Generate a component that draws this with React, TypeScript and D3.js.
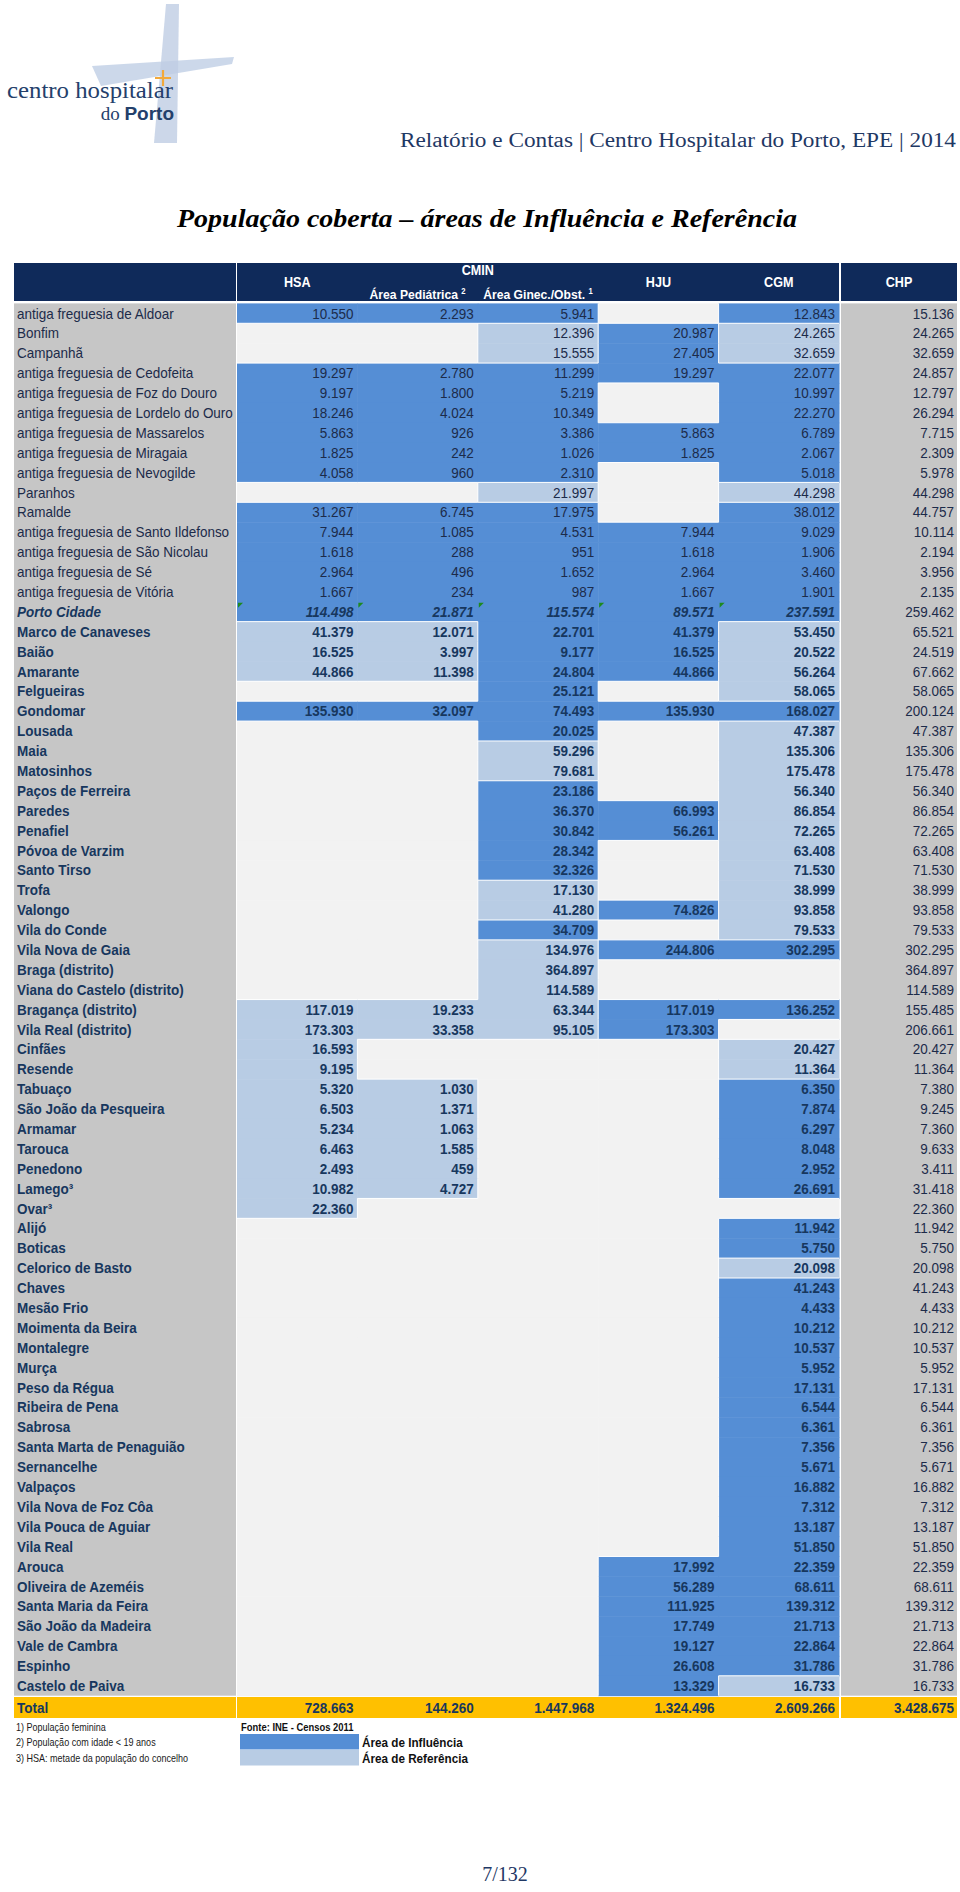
import React from 'react';
import * as d3 from 'd3';

const _ = null;

const categories: string[] = [
  'antiga freguesia de Aldoar', 'Bonfim', 'Campanhã', 'antiga freguesia de Cedofeita',
  'antiga freguesia de Foz do Douro', 'antiga freguesia de Lordelo do Ouro', 'antiga freguesia de Massarelos',
  'antiga freguesia de Miragaia', 'antiga freguesia de Nevogilde', 'Paranhos', 'Ramalde',
  'antiga freguesia de Santo Ildefonso', 'antiga freguesia de São Nicolau', 'antiga freguesia de Sé',
  'antiga freguesia de Vitória', 'Porto Cidade', 'Marco de Canaveses', 'Baião', 'Amarante', 'Felgueiras',
  'Gondomar', 'Lousada', 'Maia', 'Matosinhos', 'Paços de Ferreira', 'Paredes', 'Penafiel',
  'Póvoa de Varzim', 'Santo Tirso', 'Trofa', 'Valongo', 'Vila do Conde', 'Vila Nova de Gaia',
  'Braga (distrito)', 'Viana do Castelo (distrito)', 'Bragança (distrito)', 'Vila Real (distrito)',
  'Cinfães', 'Resende', 'Tabuaço', 'São João da Pesqueira', 'Armamar', 'Tarouca', 'Penedono',
  'Lamego³', 'Ovar³', 'Alijó', 'Boticas', 'Celorico de Basto', 'Chaves', 'Mesão Frio',
  'Moimenta da Beira', 'Montalegre', 'Murça', 'Peso da Régua', 'Ribeira de Pena', 'Sabrosa',
  'Santa Marta de Penaguião', 'Sernancelhe', 'Valpaços', 'Vila Nova de Foz Côa', 'Vila Pouca de Aguiar',
  'Vila Real', 'Arouca', 'Oliveira de Azeméis', 'Santa Maria da Feira', 'São João da Madeira',
  'Vale de Cambra', 'Espinho', 'Castelo de Paiva',
];

const hsaValues: (number | null)[] = [
  10550, _, _, 19297, 9197, 18246, 5863, 1825, 4058, _,
  31267, 7944, 1618, 2964, 1667, 114498, 41379, 16525, 44866, _,
  135930, _, _, _, _, _, _, _, _, _,
  _, _, _, _, _, 117019, 173303, 16593, 9195, 5320,
  6503, 5234, 6463, 2493, 10982, 22360, _, _, _, _,
  _, _, _, _, _, _, _, _, _, _,
  _, _, _, _, _, _, _, _, _, _,
];
const pedValues: (number | null)[] = [
  2293, _, _, 2780, 1800, 4024, 926, 242, 960, _,
  6745, 1085, 288, 496, 234, 21871, 12071, 3997, 11398, _,
  32097, _, _, _, _, _, _, _, _, _,
  _, _, _, _, _, 19233, 33358, _, _, 1030,
  1371, 1063, 1585, 459, 4727, _, _, _, _, _,
  _, _, _, _, _, _, _, _, _, _,
  _, _, _, _, _, _, _, _, _, _,
];
const ginValues: (number | null)[] = [
  5941, 12396, 15555, 11299, 5219, 10349, 3386, 1026, 2310, 21997,
  17975, 4531, 951, 1652, 987, 115574, 22701, 9177, 24804, 25121,
  74493, 20025, 59296, 79681, 23186, 36370, 30842, 28342, 32326, 17130,
  41280, 34709, 134976, 364897, 114589, 63344, 95105, _, _, _,
  _, _, _, _, _, _, _, _, _, _,
  _, _, _, _, _, _, _, _, _, _,
  _, _, _, _, _, _, _, _, _, _,
];
const hjuValues: (number | null)[] = [
  _, 20987, 27405, 19297, _, _, 5863, 1825, _, _,
  _, 7944, 1618, 2964, 1667, 89571, 41379, 16525, 44866, _,
  135930, _, _, _, _, 66993, 56261, _, _, _,
  74826, _, 244806, _, _, 117019, 173303, _, _, _,
  _, _, _, _, _, _, _, _, _, _,
  _, _, _, _, _, _, _, _, _, _,
  _, _, _, 17992, 56289, 111925, 17749, 19127, 26608, 13329,
];
const cgmValues: (number | null)[] = [
  12843, 24265, 32659, 22077, 10997, 22270, 6789, 2067, 5018, 44298,
  38012, 9029, 1906, 3460, 1901, 237591, 53450, 20522, 56264, 58065,
  168027, 47387, 135306, 175478, 56340, 86854, 72265, 63408, 71530, 38999,
  93858, 79533, 302295, _, _, 136252, _, 20427, 11364, 6350,
  7874, 6297, 8048, 2952, 26691, _, 11942, 5750, 20098, 41243,
  4433, 10212, 10537, 5952, 17131, 6544, 6361, 7356, 5671, 16882,
  7312, 13187, 51850, 22359, 68611, 139312, 21713, 22864, 31786, 16733,
];
const chpValues: number[] = [
  15136, 24265, 32659, 24857, 12797, 26294, 7715, 2309, 5978, 44298,
  44757, 10114, 2194, 3956, 2135, 259462, 65521, 24519, 67662, 58065,
  200124, 47387, 135306, 175478, 56340, 86854, 72265, 63408, 71530, 38999,
  93858, 79533, 302295, 364897, 114589, 155485, 206661, 20427, 11364, 7380,
  9245, 7360, 9633, 3411, 31418, 22360, 11942, 5750, 20098, 41243,
  4433, 10212, 10537, 5952, 17131, 6544, 6361, 7356, 5671, 16882,
  7312, 13187, 51850, 22359, 68611, 139312, 21713, 22864, 31786, 16733,
];

// I = Área de Influência, R = Área de Referência, - = none
const hsaArea = 'I--IIIIII-' + 'IIIIIIRRR-' + 'I---------' + '-----RRRRR' + 'RRRRRR----' + '----------' + '----------';
const pedArea = 'I--IIIIII-' + 'IIIIIIRRR-' + 'I---------' + '-----RR--R' + 'RRRRR-----' + '----------' + '----------';
const ginArea = 'IRRIIIIIIR' + 'IIIIIIIIII' + 'IIRRIIIIIR' + 'RIRRRRR---' + '----------' + '----------' + '----------';
const hjuArea = '-III--II--' + '-IIIIIIII-' + 'I----II---' + 'I-I--II---' + '----------' + '----------' + '---IIIIIII';
const cgmArea = 'IRRIIIIIIR' + 'IIIIIIRRRR' + 'IRRRRRRRRR' + 'RRI--I-RRI' + 'IIIII-IIRI' + 'IIIIIIIIII' + 'IIIIIIIIIR';

const totalLabel = 'Total';
const totals = [728663, 144260, 1447968, 1324496, 2609266, 3428675];

const columnKeys = ['hsa', 'ped', 'gin', 'hju', 'cgm'];
const columnValues = [hsaValues, pedValues, ginValues, hjuValues, cgmValues];
const columnAreas = [hsaArea, pedArea, ginArea, hjuArea, cgmArea];

const footnotes = ['1) População feminina', '2) População com idade < 19 anos', '3) HSA: metade da população do concelho'];
const sourceText = 'Fonte: INE - Censos 2011';
const legendItems = [{ code: 'I', label: 'Área de Influência' }, { code: 'R', label: 'Área de Referência' }];

const SANS = "'Liberation Sans Narrow', 'Arial Narrow', 'Liberation Sans', Arial, sans-serif";
const SERIF = "'Liberation Serif', 'DejaVu Serif', serif";

const C_NAVY = '#0F2A5A';
const C_INF = '#558ED5';
const C_REF = '#B8CCE4';
const C_EMPTY = '#F2F2F2';
const C_GRAY = '#C6C6C6';
const C_TOTAL = '#FFC000';
const C_TEXT = '#1C2B4A';
const C_BOLD = '#17375E';

const fmt = d3.formatLocale({ decimal: ',', thousands: '.', grouping: [3], currency: ['€', ''] }).format(',d');

const areaFill = (code: string) => (code === 'I' ? C_INF : code === 'R' ? C_REF : C_EMPTY);

type NTProps = {
  x: number; y: number; anchor?: string; size?: number; weight?: number; italic?: boolean;
  fill?: string; sx?: number; children: React.ReactNode;
};
// condensed text (emulates Arial Narrow)
function NT({ x, y, anchor = 'start', size = 15, weight = 400, italic = false, fill = C_TEXT, sx = 0.9, children }: NTProps) {
  return (
    <text transform={`translate(${x},${y}) scale(${sx},1)`} textAnchor={anchor as any} fontFamily={SANS}
      fontSize={size} fontWeight={weight} fontStyle={italic ? 'italic' : 'normal'} fill={fill}>
      {children}
    </text>
  );
}

export default function App() {
  const W = 960;
  const H = 1892;
  const n = categories.length;
  const y = d3.scaleBand<number>().domain(d3.range(n)).range([303.4, 1695.7]);
  const x = d3.scaleBand<string>().domain(columnKeys).range([237, 839]);
  const bw = x.bandwidth();
  const bh = y.bandwidth();
  const labelX0 = 14;
  const labelX1 = 236;
  const chpX0 = 841;
  const chpX1 = 957;
  const pad = 4;
  const fs = 15;

  const cells: React.ReactNode[] = [];
  const borders: React.ReactNode[] = [];
  const texts: React.ReactNode[] = [];

  for (let i = 0; i < n; i++) {
    const y0 = y(i)!;
    const yc = y0 + bh / 2 + 5.2;
    const style = i < 15 ? 'normal' : i === 15 ? 'italic' : 'bold';
    const weight = style === 'normal' ? 400 : 700;
    const italic = style === 'italic';
    const col = style === 'normal' ? C_TEXT : C_BOLD;
    texts.push(
      <NT key={`l${i}`} x={labelX0 + 3} y={yc} size={fs} weight={weight} italic={italic} fill={col}>
        {categories[i]}
      </NT>
    );
    columnKeys.forEach((k, c) => {
      const code = columnAreas[c][i];
      const x0 = x(k)!;
      cells.push(<rect key={`c${i}-${c}`} x={x0} y={y0} width={bw + 0.5} height={bh + 0.5} fill={areaFill(code)} />);
      if (i < n - 1 && columnAreas[c][i + 1] !== code) {
        borders.push(<line key={`bh${i}-${c}`} x1={x0} x2={x0 + bw} y1={y0 + bh} y2={y0 + bh} stroke="#fff" strokeWidth={1} />);
      }
      if (c < columnKeys.length - 1 && columnAreas[c + 1][i] !== code) {
        borders.push(<line key={`bv${i}-${c}`} x1={x0 + bw} x2={x0 + bw} y1={y0} y2={y0 + bh} stroke="#fff" strokeWidth={1} />);
      }
      const v = columnValues[c][i];
      if (v !== null && v !== undefined) {
        texts.push(
          <NT key={`v${i}-${c}`} x={x0 + bw - pad} y={yc} anchor="end" size={fs} weight={weight} italic={italic} fill={col}>
            {fmt(v)}
          </NT>
        );
      }
      if (i === 15) {
        borders.push(<path key={`g${c}`} d={`M${x0 + 1},${y0 + 1}h5l-5,5z`} fill="#1E8A1E" />);
      }
    });
    texts.push(
      <NT key={`t${i}`} x={chpX1 - 3} y={yc} anchor="end" size={fs} fill={C_TEXT}>
        {fmt(chpValues[i])}
      </NT>
    );
  }

  const totalY0 = 1697;
  const totalY1 = 1718;
  const totalBase = (totalY0 + totalY1) / 2 + 5.2;

  return (
    <svg width={W} height={H} viewBox={`0 0 ${W} ${H}`} style={{ position: 'absolute', left: 0, top: 0, background: '#fff' }}>
      <rect x={0} y={0} width={W} height={H} fill="#fff" />
      {/* logo */}
      <g>
        <polygon points="92,66 234,57 232,64 101,86" fill="#C3D1E6" opacity={0.85} />
        <polygon points="166,4 179,4 177,143 154,143" fill="#BFCDE3" opacity={0.8} />
        <path d="M163,70 v16 M155,78 h16" stroke="#F2A93B" strokeWidth={2.2} />
        <text x={7} y={98} fontFamily={SERIF} fontSize={23} fill="#24406B" textLength={166} lengthAdjust="spacingAndGlyphs">centro hospitalar</text>
        <text x={174} y={120} textAnchor="end" fontSize={19} fill="#24406B">
          <tspan fontFamily={SERIF}>do </tspan>
          <tspan fontFamily="'Liberation Sans', sans-serif" fontWeight={700}>Porto</tspan>
        </text>
      </g>
      <text x={956} y={147} textAnchor="end" fontFamily={SERIF} fontSize={20} fill="#1F3864" textLength={556} lengthAdjust="spacingAndGlyphs">
        Relatório e Contas | Centro Hospitalar do Porto, EPE | 2014
      </text>
      <text x={487} y={227} textAnchor="middle" fontFamily={SERIF} fontSize={26} fontWeight={700} fontStyle="italic" fill="#000" textLength={620} lengthAdjust="spacingAndGlyphs">
        População coberta – áreas de Influência e Referência
      </text>

      {/* header */}
      <rect x={labelX0} y={263} width={chpX1 - labelX0} height={38} fill={C_NAVY} />
      <line x1={236.5} x2={236.5} y1={263} y2={301} stroke="#fff" strokeWidth={1} />
      <rect x={839} y={263} width={2} height={38} fill="#fff" />
      <NT x={x('hsa')! + bw / 2} y={287} anchor="middle" size={14} weight={700} fill="#fff">HSA</NT>
      <NT x={x('ped')! + bw} y={275} anchor="middle" size={14} weight={700} fill="#fff">CMIN</NT>
      <NT x={x('ped')! + bw / 2} y={298.5} anchor="middle" size={13.5} weight={700} fill="#fff">
        Área Pediátrica <tspan fontSize={8.5} dy={-5}>2</tspan>
      </NT>
      <NT x={x('gin')! + bw / 2} y={298.5} anchor="middle" size={13.5} weight={700} fill="#fff">
        Área Ginec./Obst. <tspan fontSize={8.5} dy={-5}>1</tspan>
      </NT>
      <NT x={x('hju')! + bw / 2} y={287} anchor="middle" size={14} weight={700} fill="#fff">HJU</NT>
      <NT x={x('cgm')! + bw / 2} y={287} anchor="middle" size={14} weight={700} fill="#fff">CGM</NT>
      <NT x={(chpX0 + chpX1) / 2} y={287} anchor="middle" size={14} weight={700} fill="#fff">CHP</NT>

      {/* body */}
      <rect x={labelX0} y={y(0)!} width={labelX1 - labelX0} height={y(n - 1)! + bh - y(0)!} fill={C_GRAY} />
      <rect x={chpX0} y={y(0)!} width={chpX1 - chpX0} height={y(n - 1)! + bh - y(0)!} fill={C_GRAY} />
      {cells}
      {borders}
      {texts}

      {/* total */}
      <rect x={labelX0} y={totalY0} width={chpX1 - labelX0} height={totalY1 - totalY0} fill={C_TOTAL} />
      <line x1={236.5} x2={236.5} y1={totalY0} y2={totalY1} stroke="#fff" strokeWidth={1} />
      <rect x={839} y={totalY0} width={2} height={totalY1 - totalY0} fill="#fff" />
      <NT x={labelX0 + 3} y={totalBase} size={fs} weight={700} fill={C_BOLD}>{totalLabel}</NT>
      {columnKeys.map((k, c) => (
        <NT key={k} x={x(k)! + bw - pad} y={totalBase} anchor="end" size={fs} weight={700} fill={C_BOLD}>{fmt(totals[c])}</NT>
      ))}
      <NT x={chpX1 - 3} y={totalBase} anchor="end" size={fs} weight={700} fill={C_BOLD}>{fmt(totals[5])}</NT>

      {/* footnotes & legend */}
      {footnotes.map((f, i) => (
        <NT key={f} x={16} y={1730.5 + i * 15.5} size={10.5} sx={0.86} fill="#1a1a1a">{f}</NT>
      ))}
      <NT x={241} y={1731} size={11.5} sx={0.82} weight={700} fill="#111">{sourceText}</NT>
      {legendItems.map((it, i) => (
        <g key={it.code}>
          <rect x={240} y={1734 + i * 16} width={119} height={15.5} fill={areaFill(it.code)} />
          <NT x={362} y={1746.5 + i * 16} size={13} sx={0.9} weight={700} fill="#111">{it.label}</NT>
        </g>
      ))}

      <text x={505} y={1881} textAnchor="middle" fontFamily={SERIF} fontSize={20} fill="#1F3864">7/132</text>
    </svg>
  );
}
